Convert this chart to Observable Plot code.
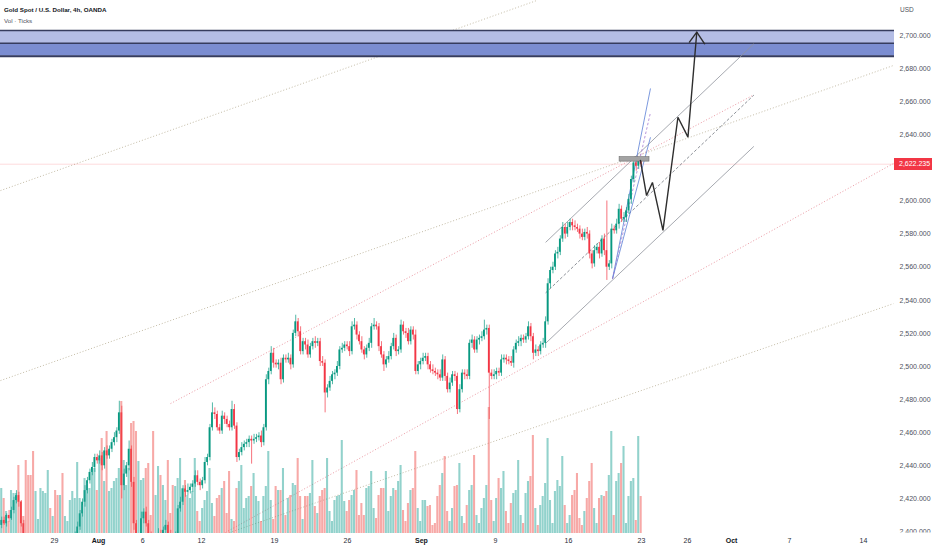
<!DOCTYPE html>
<html><head><meta charset="utf-8">
<script src="https://cdn.jsdelivr.net/npm/d3@7"></script>
<script src="https://cdn.jsdelivr.net/npm/@observablehq/plot@0.6"></script>
<style>
body{margin:0;background:#fff;}
#wrap{position:relative;width:932px;height:550px;overflow:hidden;font-family:"Liberation Sans",Arial,sans-serif;background:#fff;}
#wrap svg{position:absolute;left:0;top:0;}
.lbl{position:absolute;white-space:nowrap;line-height:1;}
</style></head><body><div id="wrap"></div>
<script>
// ---- data: XAU/USD 4h candles (bar index 0 = leftmost visible bar) ----
const firstOpen = 2404;
const close = [
2407,2405,2410,2408,2413,2419,2422,2418,2405,2396,2393,2390,2388,2385,2387,2389,2390,2392,2393,2395,
2392,2394,2391,2389,2392,2390,2392,2394,2395,2396,2398,2403,2411,2418,2425,2431,2436,2439,2445,2443,
2446,2440,2449,2446,2450,2454,2457,2461,2472,2428,2435,2440,2450,2430,2405,2390,2396,2408,2412,2405,
2398,2393,2390,2395,2399,2397,2401,2404,2399,2395,2392,2398,2414,2418,2426,2424,2425,2427,2429,2434,
2430,2428,2431,2442,2445,2463,2472,2471,2463,2461,2470,2468,2465,2463,2474,2464,2445,2448,2451,2453,
2454,2456,2455,2456,2457,2458,2454,2463,2492,2497,2508,2502,2501,2502,2492,2505,2504,2505,2501,2520,
2527,2521,2509,2515,2513,2507,2512,2515,2514,2515,2503,2502,2484,2487,2491,2495,2496,2500,2510,2511,
2513,2512,2509,2524,2525,2519,2515,2510,2507,2511,2514,2524,2525,2524,2512,2507,2501,2504,2506,2512,
2517,2509,2510,2525,2521,2520,2515,2522,2519,2497,2501,2503,2505,2506,2501,2498,2497,2496,2495,2493,
2504,2494,2486,2490,2495,2494,2474,2486,2496,2495,2494,2514,2516,2510,2516,2517,2518,2522,2523,2496,
2494,2495,2497,2496,2504,2505,2504,2503,2502,2510,2514,2515,2517,2516,2518,2524,2518,2508,2510,2509,
2513,2514,2527,2550,2558,2560,2568,2569,2577,2584,2580,2584,2587,2585,2584,2583,2580,2578,2581,2580,
2568,2562,2570,2572,2568,2577,2570,2560,2562,2583,2582,2586,2595,2589,2590,2594,2601,2613,2623,2621,
2624,2622.235];
const wickUp = [
2,2,1,3,2,2,3,2,1,2,2,1,2,2,1,2,2,3,1,2,
2,3,1,2,2,1,2,2,3,2,2,3,2,2,3,2,2,3,2,2,
3,2,2,3,2,2,3,2,7,4,3,2,5,2,3,2,3,4,2,3,
2,2,3,2,3,2,2,3,2,2,3,2,2,3,2,2,4,2,2,3,
3,2,2,3,2,2,6,3,2,2,3,2,2,2,5,3,2,2,3,2,
2,2,2,3,2,2,3,2,3,2,4,3,2,2,3,2,2,3,2,2,
4,2,3,2,2,3,2,2,3,2,2,3,2,2,3,2,2,3,2,3,
2,2,3,3,4,2,2,3,2,2,3,2,4,2,2,3,2,2,3,2,
3,2,2,3,2,2,3,2,2,3,2,2,3,2,2,2,3,2,2,3,
3,2,2,3,2,2,2,3,2,2,3,2,3,2,2,2,3,6,2,2,
2,3,2,2,3,2,2,2,3,2,2,3,2,2,2,3,2,2,3,2,
2,3,3,3,2,3,2,3,2,3,2,3,2,2,3,2,2,3,2,3,
2,2,3,2,3,2,3,30,2,3,2,3,3,2,3,2,3,2,3,2,
2,2];
const wickDn = [
2,1,2,2,1,2,2,3,2,2,1,2,2,3,2,1,2,2,2,1,
2,2,1,2,2,2,1,2,2,2,1,2,2,2,3,2,2,2,3,2,
2,3,2,2,2,2,2,3,2,8,3,2,3,3,4,5,3,2,3,2,
3,2,2,2,2,3,2,2,3,2,2,3,2,2,2,3,2,2,3,2,
2,3,2,2,2,2,2,3,2,2,2,3,2,2,2,2,3,2,2,2,
2,3,14,2,2,2,3,2,2,3,2,3,2,3,3,2,2,2,3,2,
2,3,2,2,3,2,2,2,3,2,3,2,12,3,2,2,3,2,2,2,
2,2,3,2,2,3,2,2,3,2,2,3,2,2,3,2,4,2,2,2,
2,3,2,2,2,3,2,2,3,2,2,3,2,2,3,2,2,2,3,2,
2,3,2,2,2,3,3,2,2,3,2,2,3,2,2,3,2,2,3,28,
2,2,3,2,2,2,3,2,2,3,2,2,3,2,2,2,3,4,2,3,
2,2,3,2,3,2,2,3,2,2,3,2,2,3,2,2,3,2,2,3,
3,3,2,2,3,2,3,8,2,3,2,2,3,2,2,3,2,3,2,3,
2,2];
const volume = [
45,35,22,12,43,40,40,68,32,17,73,58,58,82,42,14,45,42,40,63,
25,17,43,38,38,60,17,12,33,42,35,71,35,28,55,50,45,63,65,43,
75,95,52,102,42,45,52,55,65,132,73,48,65,110,112,102,72,53,55,65,
70,18,102,38,67,58,48,33,73,
20,48,47,55,75,45,53,38,35,42,75,22,12,25,33,42,65,30,17,35,
38,45,52,20,62,14,12,45,52,68,25,35,37,47,60,37,32,12,37,47,
82,33,14,47,43,43,65,18,35,38,50,48,75,37,14,37,37,40,73,27,
20,37,43,45,75,22,12,33,37,38,93,32,22,33,38,43,63,18,30,18,
45,47,62,25,15,38,45,45,62,22,37,45,43,52,
68,23,12,30,43,45,82,25,12,33,33,27,28,8,10,37,48,60,77,22,
12,25,47,48,70,17,10,28,43,48,78,18,10,25,35,48,126,33,12,35,
55,45,62,22,10,30,40,43,73,18,10,40,52,57,98,25,8,28,37,50,
95,33,10,42,53,47,77,28,10,18,38,43,60,15,8,22,35,52,70,25,
10,35,38,37,42,58,102,18,52,60,70,87,10,37,52,55,13,97,37];

// time axis labels (position in bar-index units)
const tickIdx = [21.5,39.5,57.5,81.5,111.3,141.1,171.3,201.5,231.3,261.1,279.9,297.9,321.5,351.7];
const tickLabels = ["29","Aug","6","12","19","26","Sep","9","16","23","26","Oct","7","14"];
const monthLabels = ["Aug","Sep","Oct"];
const priceTicks = [2400,2420,2440,2460,2480,2500,2520,2540,2560,2580,2600,2620,2640,2660,2680,2700];

// drawings: [barIndex, price]
const zoneLevels = [2687.5, 2695.3, 2703.0];
const trendGray = [[[-0.5,2606.3],[218.3,2721.1]], [[-0.5,2491.5],[364.0,2681.9]], [[93.0,2399.7],[364.0,2538.0]]];
const trendPink = [[[68.9,2477.6],[306.4,2663.7]], [[91.3,2399.7],[364.0,2622.7]]];
const channelUpper = [[222,2575],[307,2695]];
const channelMid   = [[222,2544.5],[307,2664]];
const channelLower = [[222,2514],[307,2633]];
const fanOrigin = [249.3,2553];
const fanEnds = [[264.8,2668],[264.8,2638.5]];
const fanDashedEnd = [264.8,2653.5];
const peakBox = [[252.2,2623.8],[264.4,2626.5]];
const projection = [[260.7,2624.5],[263.2,2603.3],[265.6,2611.2],[269.9,2582.2],[276,2650.6],[280.1,2638.6],[283.7,2702]];
const arrowHead = [[280.7,2696],[283.7,2702],[286.9,2695]];

// ---- build ----
const UP = "#089981", DN = "#f23645";
const bars = close.map((c, i) => {
  const o = i === 0 ? firstOpen : close[i - 1];
  const up = c >= o;
  return {i, o, c, h: Math.max(o, c) + (wickUp[i] ?? 2), l: Math.min(o, c) - (wickDn[i] ?? 2), v: volume[i] ?? 0, up};
});
const last = close[close.length - 1];
// TradingView hides scale labels that would sit under the last-price label
const shownTicks = priceTicks.filter(t => Math.abs(t - last) > 6);
const W = 932, H = 550, mR = 38, mB = 17;
const xDom = [-0.5, 364.4], yDom = [2399.1, 2721.15];
const seg = (a, b) => ({x1: a[0], y1: a[1], x2: b[0], y2: b[1]});
const linkOpts = (o) => Object.assign({x1: "x1", y1: "y1", x2: "x2", y2: "y2", clip: true}, o);
const ff = "Liberation Sans, Arial, sans-serif";

const main = Plot.plot({
  width: W, height: H, marginTop: 0, marginBottom: mB, marginLeft: 0, marginRight: mR,
  x: {domain: xDom, axis: null}, y: {domain: yDom, axis: null},
  style: {background: "transparent", fontFamily: ff},
  marks: [
    Plot.link(trendGray.map(s => seg(s[0], s[1])), linkOpts({stroke: "#c4bca6", strokeWidth: 1, strokeDasharray: "1,2"})),
    Plot.link(trendPink.map(s => seg(s[0], s[1])), linkOpts({stroke: "#eb9aa4", strokeWidth: 1, strokeDasharray: "1,2"})),
    Plot.ruleY([last], {stroke: DN, strokeOpacity: 0.18, strokeWidth: 1}),
    Plot.rect([[zoneLevels[1], zoneLevels[2]]], {x1: xDom[0], x2: xDom[1], y1: d => d[0], y2: d => d[1], fill: "#b4bde5"}),
    Plot.rect([[zoneLevels[0], zoneLevels[1]]], {x1: xDom[0], x2: xDom[1], y1: d => d[0], y2: d => d[1], fill: "#7b8dd1"}),
    Plot.ruleY(zoneLevels, {stroke: "#363c5e", strokeWidth: d => d === zoneLevels[0] ? 2 : 1.4}),
    Plot.link([seg(...channelUpper), seg(...channelLower)], linkOpts({stroke: "#8f939c", strokeWidth: 0.8})),
    Plot.link([seg(...channelMid)], linkOpts({stroke: "#6f737c", strokeWidth: 0.8, strokeDasharray: "3,2"})),
    Plot.link(fanEnds.map(e => seg(fanOrigin, e)), linkOpts({stroke: "#5b7fd6", strokeWidth: 0.8})),
    Plot.link([seg(fanOrigin, fanDashedEnd)], linkOpts({stroke: "#a57bd0", strokeWidth: 0.8, strokeDasharray: "2.5,2"})),
    Plot.ruleX(bars, {x: "i", y1: "l", y2: "h", stroke: d => d.up ? UP : DN, strokeWidth: 0.7, clip: true}),
    Plot.rect(bars, {x1: d => d.i - 0.36, x2: d => d.i + 0.36, y1: "o", y2: "c", fill: d => d.up ? UP : DN, clip: true}),
    Plot.rect([peakBox], {x1: d => d[0][0], x2: d => d[1][0], y1: d => d[0][1], y2: d => d[1][1], fill: "#a3a3a3", stroke: "#6e6e6e", strokeWidth: 0.6}),
    Plot.line(projection, {x: d => d[0], y: d => d[1], stroke: "#2e2e2e", strokeWidth: 1.4, strokeLinejoin: "miter"}),
    Plot.line(arrowHead, {x: d => d[0], y: d => d[1], stroke: "#2e2e2e", strokeWidth: 1.4}),
    Plot.axisY(shownTicks, {anchor: "right", tickSize: 0, tickPadding: 5, tickFormat: d3.format(",.3f"), fontSize: 7, color: "#50535e"}),
    Plot.text(tickIdx.map((x, k) => ({x, t: tickLabels[k]})).filter(d => !monthLabels.includes(d.t)),
      {x: "x", text: "t", frameAnchor: "bottom", dy: 9.5, fontSize: 7, fill: "#2a2e39"}),
    Plot.text(tickIdx.map((x, k) => ({x, t: tickLabels[k]})).filter(d => monthLabels.includes(d.t)),
      {x: "x", text: "t", frameAnchor: "bottom", dy: 9.5, fontSize: 7, fontWeight: "bold", fill: "#131722"})
  ]
});

const volPlot = Plot.plot({
  width: W, height: H, marginTop: 0, marginBottom: mB, marginLeft: 0, marginRight: mR,
  x: {domain: xDom, axis: null}, y: {domain: [0, H - mB], axis: null},
  style: {background: "transparent"},
  marks: [
    Plot.rect(bars, {x1: d => d.i - 0.42, x2: d => d.i + 0.42, y1: 0, y2: "v", fill: d => d.up ? "#26a69a" : "#ef5350", fillOpacity: 0.5})
  ]
});
volPlot.style.pointerEvents = "none";

const wrap = document.getElementById("wrap");
wrap.appendChild(main);
wrap.appendChild(volPlot);

// clip the price-axis labels at the pane bottom (as TradingView does)
const NS = "http://www.w3.org/2000/svg";
const defs = document.createElementNS(NS, "defs");
const cp = document.createElementNS(NS, "clipPath"); cp.setAttribute("id", "paneClip");
const cr = document.createElementNS(NS, "rect");
cr.setAttribute("x", 0); cr.setAttribute("y", 0); cr.setAttribute("width", W); cr.setAttribute("height", H - mB - 1);
cp.appendChild(cr); defs.appendChild(cp); main.insertBefore(defs, main.firstChild);
main.querySelectorAll('[aria-label="y-axis tick label"]').forEach(g => g.setAttribute("clip-path", "url(#paneClip)"));

// HTML overlays: legend, currency, last-price label
const yS = main.scale("y");
const ly = yS.apply(last);
function addLbl(text, css) { const d = document.createElement("div"); d.className = "lbl"; d.textContent = text; Object.assign(d.style, css); wrap.appendChild(d); return d; }
addLbl("Gold Spot / U.S. Dollar, 4h, OANDA", {left: "4px", top: "7px", fontSize: "6.2px", fontWeight: "600", color: "#131722"});
addLbl("Vol · Ticks", {left: "4px", top: "18px", fontSize: "6.2px", color: "#50535e"});
addLbl("USD", {left: "900px", top: "7px", fontSize: "6.5px", color: "#50535e"});
addLbl(d3.format(",.3f")(last), {left: (W - mR) + "px", top: (ly - 6) + "px", width: mR + "px", height: "12px", lineHeight: "12px",
  background: "#f23645", color: "#fff", fontSize: "7px", paddingLeft: "5px", boxSizing: "border-box"});
</script>
</body></html>
